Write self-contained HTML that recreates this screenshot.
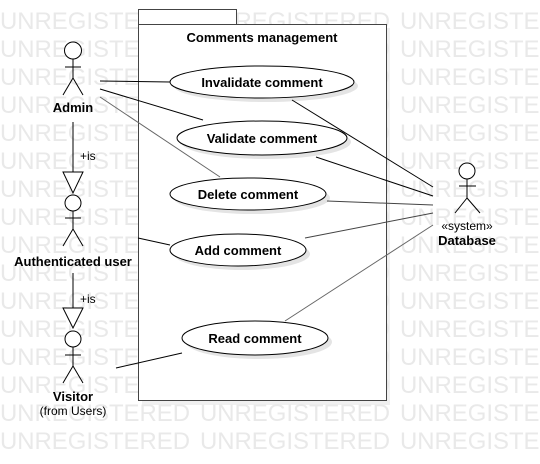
<!DOCTYPE html>
<html><head><meta charset="utf-8"><style>
html,body{margin:0;padding:0;background:#fff;}
svg{display:block;}
text{font-family:"Liberation Sans",sans-serif;}
</style></head><body>
<svg width="540" height="464" viewBox="0 0 540 464" xmlns="http://www.w3.org/2000/svg">
<defs>
<g id="wm" fill="#e9e9e9" font-size="24">
<text x="0" y="0" textLength="190" lengthAdjust="spacingAndGlyphs">UNREGISTERED</text>
<text x="200" y="0" textLength="190" lengthAdjust="spacingAndGlyphs">UNREGISTERED</text>
<text x="400" y="0" textLength="190" lengthAdjust="spacingAndGlyphs">UNREGISTERED</text>
</g>
</defs>
<use href="#wm" y="29"/><use href="#wm" y="57"/><use href="#wm" y="85"/><use href="#wm" y="113"/>
<use href="#wm" y="141"/><use href="#wm" y="169"/><use href="#wm" y="197"/><use href="#wm" y="225"/>
<use href="#wm" y="253"/><use href="#wm" y="281"/><use href="#wm" y="309"/><use href="#wm" y="337"/>
<use href="#wm" y="365"/><use href="#wm" y="393"/><use href="#wm" y="421"/><use href="#wm" y="449"/>
<!-- package -->
<rect x="142" y="28" width="248" height="377" fill="#e6e6e6" opacity="0.6"/>
<rect x="138.5" y="9.5" width="98" height="15" fill="#fff" stroke="#444"/>
<rect x="138.5" y="24.5" width="248" height="376" fill="#fff" stroke="#444"/>
<text x="262" y="42" font-size="13" font-weight="bold" text-anchor="middle" fill="#000">Comments management</text>
<g fill="#e4e4e4">
<ellipse cx="266" cy="86" rx="92" ry="16"/>
<ellipse cx="266" cy="142" rx="85" ry="17"/>
<ellipse cx="252" cy="198" rx="78" ry="16"/>
<ellipse cx="242" cy="254" rx="68" ry="16"/>
<ellipse cx="259" cy="342" rx="73" ry="17"/>
</g>
<g fill="#fff" stroke="#000" stroke-width="1">
<ellipse cx="262" cy="82" rx="92" ry="16"/>
<ellipse cx="262" cy="138" rx="85" ry="17"/>
<ellipse cx="248" cy="194" rx="78" ry="16"/>
<ellipse cx="238" cy="250" rx="68" ry="16"/>
<ellipse cx="255" cy="338" rx="73" ry="17"/>
</g>
<g font-size="13" font-weight="bold" text-anchor="middle" fill="#000">
<text x="262" y="87">Invalidate comment</text>
<text x="262" y="143">Validate comment</text>
<text x="248" y="199">Delete comment</text>
<text x="238" y="255">Add comment</text>
<text x="255" y="343">Read comment</text>
</g>
<g stroke="#000" stroke-width="1" fill="none">
<line x1="100" y1="81" x2="170" y2="82"/>
<line x1="100" y1="89" x2="203" y2="120"/>
<line x1="100" y1="97" x2="220" y2="177" stroke="#666"/>
<line x1="138" y1="238" x2="170" y2="245"/>
<line x1="116" y1="368" x2="182" y2="353"/>
<line x1="292" y1="100" x2="433" y2="187"/>
<line x1="316" y1="157" x2="433" y2="196"/>
<line x1="327" y1="201" x2="433" y2="205" stroke="#444"/>
<line x1="305" y1="238" x2="433" y2="213" stroke="#444"/>
<line x1="285" y1="321" x2="433" y2="225" stroke="#666"/>
<line x1="73" y1="122" x2="73" y2="172"/>
<polygon points="63,172 83,172 73,193" fill="#fff"/>
<line x1="73" y1="273" x2="73" y2="308"/>
<polygon points="63,308 83,308 73,328" fill="#fff"/>
</g>
<g font-size="12" fill="#000">
<text x="80" y="160">+is</text>
<text x="80" y="303">+is</text>
</g>
<g stroke="#000" stroke-width="1" fill="#fff">
<circle cx="73" cy="50.5" r="8.5"/>
<path d="M73 59V78M65 67H81M73 78L63 95M73 78L83 95" fill="none"/>
<circle cx="73" cy="203" r="8"/>
<path d="M73 211V229M65 218H81M73 229L63 246M73 229L83 246" fill="none"/>
<circle cx="73" cy="339" r="8"/>
<path d="M73 347V366M65 355H81M73 366L63 383M73 366L83 383" fill="none"/>
<circle cx="467" cy="171" r="8"/>
<path d="M467 179V198M459 186H476M467 198L455 213M467 198L480 213" fill="none"/>
</g>
<g font-size="13" text-anchor="middle" fill="#000">
<text x="73" y="112" font-weight="bold">Admin</text>
<text x="73" y="266" font-weight="bold">Authenticated user</text>
<text x="73" y="401" font-weight="bold">Visitor</text>
<text x="73" y="415" font-size="12">(from Users)</text>
<text x="467" y="230" font-size="12">«system»</text>
<text x="467" y="245" font-weight="bold">Database</text>
</g>
</svg>
</body></html>
